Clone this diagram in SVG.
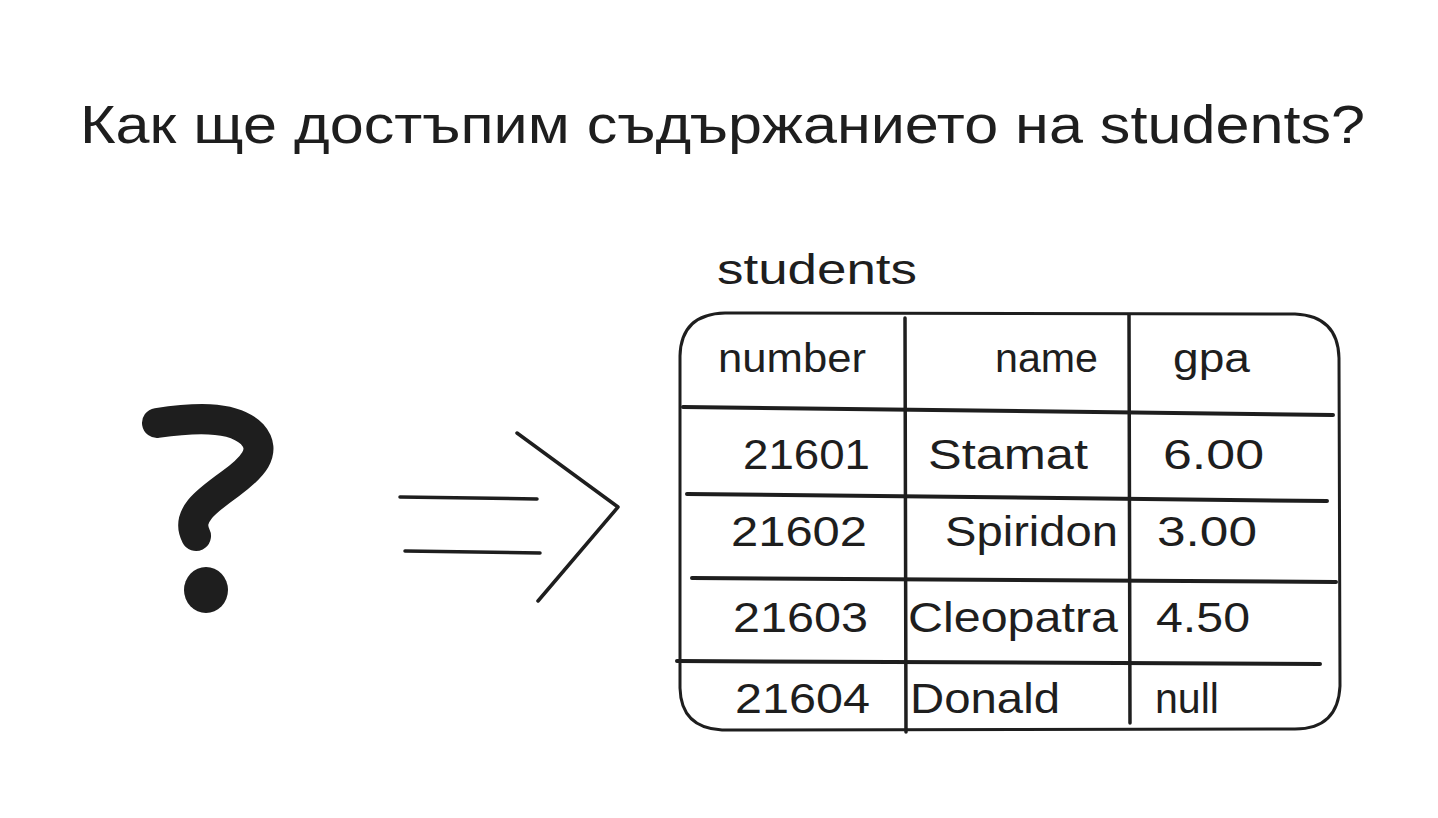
<svg xmlns="http://www.w3.org/2000/svg" width="1438" height="818" viewBox="0 0 1438 818">
<style>
.t{font-family:"Liberation Sans","Noto Sans",sans-serif;fill:#1e1e1e}
.s{fill:none;stroke:#1e1e1e;stroke-linecap:round;stroke-linejoin:round}
</style>
<rect width="1438" height="818" fill="#ffffff"/>
<g id="title">
<text class="t" x="80" y="143" font-size="54" textLength="1285" lengthAdjust="spacingAndGlyphs">Как ще достъпим съдържанието на students?</text>
</g>
<g id="question">
<path class="s" stroke-width="30" d="M157,423 C190,418 232,414 252,434 C268,452 252,468 230,484 C205,502 186,516 196,536"/>
<ellipse cx="206" cy="590" rx="22" ry="23" fill="#1e1e1e"/>
</g>
<g id="connectors">
<path class="s" stroke-width="3.5" d="M400,497 L537,499"/>
<path class="s" stroke-width="3.5" d="M405,551 L540,553"/>
<path class="s" stroke-width="3.5" d="M517,433 L618,507 L538,601"/>
</g>
<g id="students-label">
<text class="t" x="717" y="284" font-size="42" textLength="200" lengthAdjust="spacingAndGlyphs">students</text>
</g>
<g id="table">
<path class="s" stroke-width="3" d="M725,313 L1295,314 Q1338,316 1339,358 L1340,686 Q1338,729 1295,729 L722,730 Q681,728 680,688 L680,356 Q681,314 725,313 Z"/>
<path class="s" stroke-width="3.5" d="M905,318 L906,732"/>
<path class="s" stroke-width="3.5" d="M1129,315 L1130,723"/>
<path class="s" stroke-width="4" d="M683,407 L1333,415"/>
<path class="s" stroke-width="4" d="M687,494 L1327,501"/>
<path class="s" stroke-width="4" d="M692,578 L1336,582"/>
<path class="s" stroke-width="4" d="M677,661 L1320,664"/>
<g id="header">
<text class="t" x="718" y="372" font-size="40" textLength="148" lengthAdjust="spacingAndGlyphs">number</text>
<text class="t" x="995" y="372" font-size="40" textLength="103" lengthAdjust="spacingAndGlyphs">name</text>
<text class="t" x="1173" y="372" font-size="40" textLength="77" lengthAdjust="spacingAndGlyphs">gpa</text>
</g>
<g id="row1">
<text class="t" x="743" y="469" font-size="43" textLength="127" lengthAdjust="spacingAndGlyphs">21601</text>
<text class="t" x="928" y="469" font-size="43" textLength="160" lengthAdjust="spacingAndGlyphs">Stamat</text>
<text class="t" x="1163" y="469" font-size="43" textLength="101" lengthAdjust="spacingAndGlyphs">6.00</text>
</g>
<g id="row2">
<text class="t" x="731" y="546" font-size="43" textLength="136" lengthAdjust="spacingAndGlyphs">21602</text>
<text class="t" x="945" y="546" font-size="43" textLength="173" lengthAdjust="spacingAndGlyphs">Spiridon</text>
<text class="t" x="1157" y="546" font-size="43" textLength="100" lengthAdjust="spacingAndGlyphs">3.00</text>
</g>
<g id="row3">
<text class="t" x="733" y="632" font-size="43" textLength="135" lengthAdjust="spacingAndGlyphs">21603</text>
<text class="t" x="908" y="632" font-size="43" textLength="210" lengthAdjust="spacingAndGlyphs">Cleopatra</text>
<text class="t" x="1156" y="632" font-size="43" textLength="94" lengthAdjust="spacingAndGlyphs">4.50</text>
</g>
<g id="row4">
<text class="t" x="735" y="713" font-size="43" textLength="135" lengthAdjust="spacingAndGlyphs">21604</text>
<text class="t" x="910" y="713" font-size="43" textLength="150" lengthAdjust="spacingAndGlyphs">Donald</text>
<text class="t" x="1155" y="713" font-size="43" textLength="64" lengthAdjust="spacingAndGlyphs">null</text>
</g>
</g>
</svg>
